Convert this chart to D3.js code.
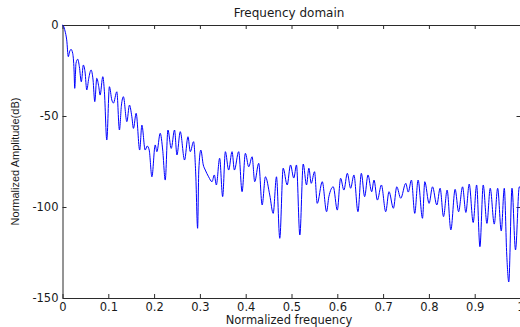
<!DOCTYPE html>
<html>
<head>
<meta charset="utf-8">
<script src="https://cdn.jsdelivr.net/npm/d3@7"></script>
<style>
  html, body { margin: 0; padding: 0; background: #fff; }
  svg { display: block; font-family: "DejaVu Sans", Verdana, sans-serif; }
</style>
</head>
<body>
<svg id="chart" width="520" height="327"></svg>
<script>
// Spectrum trace: normalized frequency vs. normalized amplitude (dB)
const freq = [
  0, 0.002, 0.0055, 0.0092, 0.0127, 0.0153, 0.0186, 0.0223, 0.0252, 0.0267,
  0.0295, 0.0333, 0.0368, 0.0411, 0.0455, 0.0492, 0.0530, 0.0573, 0.0624, 0.0667,
  0.0705, 0.0748, 0.0792, 0.0821, 0.0880, 0.0915, 0.0967, 0.1024, 0.1077, 0.1112,
  0.1186, 0.1243, 0.1287, 0.1330, 0.1405, 0.1462, 0.1514, 0.1549, 0.1608, 0.1685,
  0.1733, 0.1805, 0.1849, 0.1893, 0.1952, 0.2024, 0.2061, 0.2133, 0.2188, 0.2243,
  0.2302, 0.2374, 0.2446, 0.2499, 0.2571, 0.2665, 0.2740, 0.2790, 0.2862, 0.2910,
  0.2950, 0.2976, 0.3020, 0.3074, 0.3118, 0.3190, 0.3265, 0.3315, 0.3359, 0.3431,
  0.3497, 0.3556, 0.3628, 0.3702, 0.3753, 0.3847, 0.3921, 0.3993, 0.4066, 0.4140,
  0.4197, 0.4284, 0.4359, 0.4431, 0.4525, 0.4600, 0.4672, 0.4744, 0.4818, 0.4906,
  0.4978, 0.5050, 0.5109, 0.5182, 0.5256, 0.5328, 0.5379, 0.5431, 0.5503, 0.5562,
  0.5672, 0.5766, 0.5816, 0.5912, 0.6000, 0.6072, 0.6144, 0.6219, 0.6291, 0.6363,
  0.6451, 0.6525, 0.6597, 0.6670, 0.6751, 0.6801, 0.6875, 0.6963, 0.7057, 0.7129,
  0.7225, 0.7298, 0.7385, 0.7495, 0.7549, 0.7619, 0.7691, 0.7764, 0.7860, 0.7910,
  0.8004, 0.8079, 0.8173, 0.8245, 0.8319, 0.8398, 0.8479, 0.8573, 0.8648, 0.8735,
  0.8807, 0.8880, 0.8967, 0.9042, 0.9114, 0.9186, 0.9267, 0.9339, 0.9427, 0.9501,
  0.9580, 0.9646, 0.9700, 0.9744, 0.9814, 0.9891, 0.9974, 1.0
];
const amplitudeDb = [
  0, -0.5, -3.3, -8.2, -17.4, -14.8, -13.4, -15.6, -24.7, -34.8,
  -21.0, -18.8, -22.9, -31.2, -22.0, -25.8, -35.7, -29.3, -24.7, -30.2,
  -42.1, -29.3, -33.9, -38.5, -28.4, -36.7, -63.2, -33.9, -41.2, -42.9,
  -36.7, -57.7, -44.0, -39.4, -53.1, -44.0, -50.4, -56.8, -48.5, -68.7,
  -55.0, -68.7, -66.5, -68.7, -83.4, -65.9, -69.6, -59.5, -68.7, -85.2,
  -57.7, -67.8, -57.7, -71.4, -58.6, -74.2, -61.4, -69.6, -64.1, -82.4,
  -111.7, -79.7, -68.7, -76.9, -79.7, -83.4, -86.1, -82.4, -87.9, -73.2,
  -94.3, -69.6, -79.7, -69.6, -79.7, -69.6, -91.6, -70.5, -77.9, -72.4,
  -86.1, -76.0, -98.9, -83.4, -93.4, -103.5, -83.4, -117.2, -78.7, -87.9,
  -76.9, -84.1, -76.9, -115.4, -76.4, -87.9, -78.7, -87.0, -80.6, -98.0,
  -86.1, -102.6, -94.3, -88.9, -101.7, -84.2, -90.7, -81.5, -89.7, -82.4,
  -102.6, -81.5, -94.3, -82.4, -91.6, -85.2, -96.2, -87.9, -102.6, -91.6,
  -100.7, -88.9, -95.2, -87.0, -91.8, -85.2, -103.5, -85.2, -106.2, -86.1,
  -98.0, -88.9, -98.9, -89.7, -105.3, -90.7, -112.6, -90.3, -102.6, -88.9,
  -103.0, -87.4, -108.5, -87.9, -121.8, -87.9, -109.0, -89.7, -109.4, -89.7,
  -113.2, -89.7, -126.4, -141.2, -89.7, -123.6, -88.9, -89.6
];

const xTicks = [0, 0.1, 0.2, 0.3, 0.4, 0.5, 0.6, 0.7, 0.8, 0.9, 1];
const yTicks = [0, -50, -100, -150];

const title = "Frequency domain";
const xLabel = "Normalized frequency";
const yLabel = "Normalized Amplitude(dB)";

const svg = d3.select("#chart");
const plot = { left: 62.5, right: 520.5, top: 25, bottom: 298 };

const x = d3.scaleLinear().domain([0, 1]).range([plot.left, plot.right]);
const y = d3.scaleLinear().domain([-150, 0]).range([plot.bottom, plot.top]);

const axisColor = "#2b2b2b";
const textColor = "#1a1a1a";
const tickFont = "11.5px";
// Plain hyphen for negative numbers
const plainNumber = d => String(d);

function styleAxis(g) {
  g.selectAll(".domain").attr("stroke", axisColor).attr("stroke-width", 1);
  g.selectAll(".tick line").attr("stroke", axisColor).attr("stroke-width", 1);
  g.selectAll(".tick text").attr("fill", textColor)
    .style("font-family", "'DejaVu Sans', Verdana, sans-serif")
    .style("font-size", tickFont);
}

// Bottom axis with labels, ticks pointing inward
svg.append("g")
  .attr("transform", `translate(0,${plot.bottom})`)
  .call(d3.axisBottom(x).tickValues(xTicks).tickSize(-4).tickSizeOuter(0)
    .tickPadding(5).tickFormat(plainNumber))
  .call(styleAxis);

// Top mirror axis
svg.append("g")
  .attr("transform", `translate(0,${plot.top})`)
  .call(d3.axisTop(x).tickValues(xTicks).tickSize(-4).tickSizeOuter(0).tickFormat(""))
  .call(styleAxis);

// Left axis with labels
svg.append("g")
  .attr("transform", `translate(${plot.left},0)`)
  .call(d3.axisLeft(y).tickValues(yTicks).tickSize(-4).tickSizeOuter(0)
    .tickPadding(4).tickFormat(plainNumber))
  .call(styleAxis);

// Right mirror axis
svg.append("g")
  .attr("transform", `translate(${plot.right},0)`)
  .call(d3.axisRight(y).tickValues(yTicks).tickSize(-4).tickSizeOuter(0).tickFormat(""))
  .call(styleAxis);

// Spectrum line
const points = freq.map((f, i) => [f, amplitudeDb[i]]);
const line = d3.line()
  .x(d => x(d[0]))
  .y(d => y(d[1]))
  .curve(d3.curveMonotoneX);
svg.append("path")
  .datum(points)
  .attr("fill", "none")
  .attr("stroke", "#0000ff")
  .attr("stroke-width", 1)
  .attr("stroke-linejoin", "round")
  .attr("d", line);

// Titles
svg.append("text")
  .attr("x", 289)
  .attr("y", 17)
  .attr("text-anchor", "middle")
  .attr("fill", textColor)
  .style("font-size", "12px")
  .text(title);

svg.append("text")
  .attr("x", 289)
  .attr("y", 324)
  .attr("text-anchor", "middle")
  .attr("fill", textColor)
  .style("font-size", "11.5px")
  .text(xLabel);

svg.append("text")
  .attr("transform", `translate(19,${(plot.top + plot.bottom) / 2}) rotate(-90)`)
  .attr("text-anchor", "middle")
  .attr("fill", textColor)
  .style("font-family", "'Liberation Sans', Arial, sans-serif")
  .style("font-size", "11px")
  .text(yLabel);
</script>
</body>
</html>
